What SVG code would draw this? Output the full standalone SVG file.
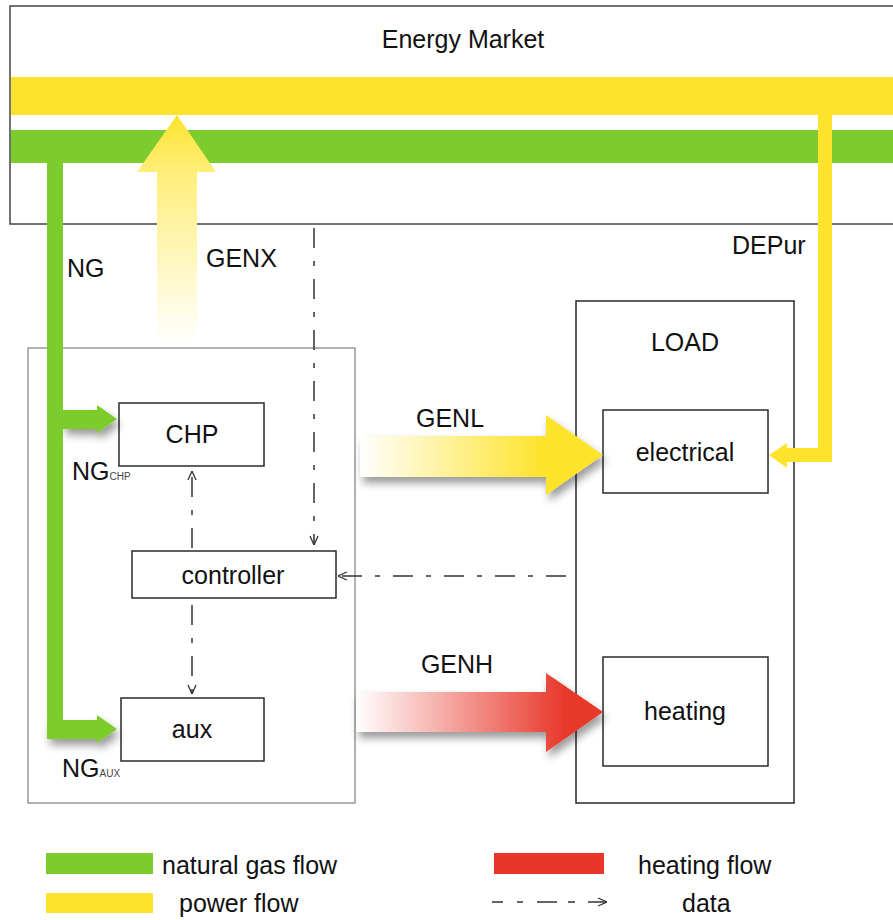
<svg xmlns="http://www.w3.org/2000/svg" width="893" height="920" viewBox="0 0 893 920">
<style>
text{font-family:"Liberation Sans",Arial,sans-serif;font-size:25px;fill:#111}
.mid{text-anchor:middle}
.sub{font-size:10px;fill:#444}
.box{fill:#fff;stroke:#2a2a2a;stroke-width:1.5}
.data{fill:none;stroke:#333;stroke-width:1.5;stroke-dasharray:20 13 5 13}
.yel{fill:#FDE32C}
.grn{fill:#7BCC2C}
.red{fill:#E8372A}
</style>
<defs>
<marker id="ah" viewBox="0 0 10 10" refX="10" refY="5" markerWidth="10" markerHeight="10" markerUnits="userSpaceOnUse" orient="auto">
<path d="M1,1 L10,5 L1,9" fill="none" stroke="#333" stroke-width="1.3"/>
</marker>
<filter id="sh" x="-20%" y="-30%" width="150%" height="180%">
<feDropShadow dx="3" dy="6" stdDeviation="4" flood-color="#000" flood-opacity="0.4"/>
</filter>
<linearGradient id="gX" gradientUnits="userSpaceOnUse" x1="0" y1="343" x2="0" y2="115">
<stop offset="0" stop-color="#fff"/>
<stop offset="0.75" stop-color="#FFEE7A"/>
<stop offset="1" stop-color="#FDE32C"/>
</linearGradient>
<linearGradient id="gL" gradientUnits="userSpaceOnUse" x1="360" y1="0" x2="603" y2="0">
<stop offset="0" stop-color="#fff"/>
<stop offset="0.75" stop-color="#FDE32C"/>
<stop offset="1" stop-color="#FDE32C"/>
</linearGradient>
<linearGradient id="gH" gradientUnits="userSpaceOnUse" x1="356" y1="0" x2="603" y2="0">
<stop offset="0" stop-color="#fff"/>
<stop offset="0.85" stop-color="#E8372A"/>
<stop offset="1" stop-color="#E8372A"/>
</linearGradient>
</defs>

<g id="energy-market">
<rect x="10" y="6" width="900" height="218" fill="#fff" stroke="#444" stroke-width="1.5"/>
<text class="mid" x="463" y="48">Energy Market</text>
<rect class="yel" x="11" y="77" width="882" height="38"/>
<rect class="grn" x="11" y="130" width="882" height="33"/>
</g>

<g id="generator">
<rect x="28" y="348" width="327" height="455" fill="none" stroke="#888" stroke-width="1.3"/>
</g>

<g id="load">
<rect x="576" y="301" width="218" height="502" fill="none" stroke="#2a2a2a" stroke-width="1.5"/>
<text class="mid" x="685" y="351">LOAD</text>
</g>

<g id="chp">
<rect class="box" x="119" y="403" width="145" height="63"/>
<text class="mid" x="192" y="443">CHP</text>
</g>
<g id="controller">
<rect class="box" x="132" y="551" width="204" height="47"/>
<text class="mid" x="233" y="584">controller</text>
</g>
<g id="aux">
<rect class="box" x="121" y="698" width="143" height="63"/>
<text class="mid" x="192" y="738">aux</text>
</g>
<g id="electrical">
<rect class="box" x="603" y="410" width="165" height="83"/>
<text class="mid" x="685" y="461">electrical</text>
</g>
<g id="heating">
<rect class="box" x="603" y="657" width="165" height="109"/>
<text class="mid" x="685" y="720">heating</text>
</g>

<g id="connectors">
<!-- natural gas -->
<path class="grn" filter="url(#sh)" d="M63,410 H97 V405 L117,419 L97,433 V429 H63 Z"/>
<path class="grn" filter="url(#sh)" d="M47,720 H97 V715 L117,729 L97,743 V739 H47 Z"/>
<path class="grn" d="M47,160 H63 V730 H47 Z"/>
<!-- power -->
<path fill="url(#gX)" d="M157,343 V172 H137 L177,115 L216,172 H197 V343 Z"/>
<path class="yel" d="M818,115 H832 V462 H787 V468 L769,455 L787,443 V448 H818 Z"/>
<path fill="url(#gL)" filter="url(#sh)" d="M360,436 H546 V415 L603,455 L546,495 V477 H360 Z"/>
<!-- heating -->
<path fill="url(#gH)" filter="url(#sh)" d="M356,692 H546 V673 L603,712 L546,752 V732 H356 Z"/>
<!-- data -->
<line class="data" x1="314" y1="228" x2="314" y2="545" marker-end="url(#ah)"/>
<line class="data" x1="192" y1="548" x2="192" y2="471" marker-end="url(#ah)"/>
<line class="data" x1="192" y1="605" x2="192" y2="694" marker-end="url(#ah)"/>
<line class="data" x1="566" y1="576" x2="338" y2="576" marker-end="url(#ah)"/>
</g>

<g id="labels">
<text x="67" y="277">NG</text>
<text x="206" y="267">GENX</text>
<text x="732" y="254">DEPur</text>
<text class="mid" x="450" y="427">GENL</text>
<text class="mid" x="457" y="673">GENH</text>
<text x="72" y="480">NG<tspan class="sub">CHP</tspan></text>
<text x="62" y="777">NG<tspan class="sub">AUX</tspan></text>
</g>

<g id="legend">
<rect class="grn" x="46" y="853" width="107" height="21"/>
<text x="162" y="874">natural gas flow</text>
<rect class="yel" x="46" y="893" width="107" height="20"/>
<text x="179" y="912">power flow</text>
<rect class="red" x="494" y="853" width="110" height="21"/>
<text x="638" y="874">heating flow</text>
<line x1="492" y1="902" x2="575" y2="902" stroke="#333" stroke-width="1.5" stroke-dasharray="11 14 6 14 20 11 7 20"/>
<line x1="588" y1="902" x2="607" y2="902" stroke="#333" stroke-width="1.5" marker-end="url(#ah)"/>
<text x="682" y="912">data</text>
</g>
</svg>
